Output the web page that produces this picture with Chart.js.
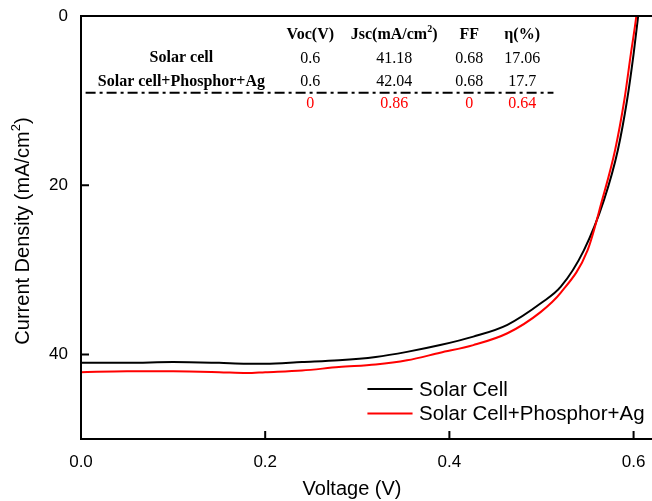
<!DOCTYPE html>
<html>
<head>
<meta charset="utf-8">
<script src="https://cdn.jsdelivr.net/npm/chart.js@4.4.0/dist/chart.umd.min.js"></script>
<style>
  html, body { margin: 0; padding: 0; background: #fff; }
  #wrap { width: 652px; height: 501px; }
</style>
</head>
<body>
<div id="wrap"><canvas id="myChart" width="652" height="501"></canvas></div>
<script>
// J-V curves (voltage in V, current density in mA/cm2)
var cellVoltage = [0, 0.05, 0.10, 0.15, 0.18, 0.20, 0.24, 0.28, 0.32, 0.354, 0.39, 0.426, 0.463, 0.50, 0.521, 0.546, 0.568, 0.583, 0.593, 0.600, 0.605, 0.608];
var cellCurrent = [41.0, 41.0, 40.9, 41.0, 41.1, 41.1, 40.9, 40.7, 40.3, 39.7, 38.9, 37.9, 36.5, 33.9, 32.0, 27.7, 21.7, 15.8, 9.9, 4.5, 0, -3];
var agVoltage = [0, 0.05, 0.10, 0.15, 0.18, 0.20, 0.24, 0.28, 0.32, 0.354, 0.39, 0.426, 0.463, 0.499, 0.521, 0.55, 0.566, 0.580, 0.590, 0.597, 0.603, 0.606];
var agCurrent = [42.1, 42.0, 42.0, 42.1, 42.2, 42.1, 41.9, 41.5, 41.2, 40.7, 39.8, 38.9, 37.5, 35.0, 32.7, 27.7, 21.7, 15.8, 9.9, 4.5, 0, -3];

var seriesLabels = ['Solar Cell', 'Solar Cell+Phosphor+Ag'];
var seriesColors = ['#000000', '#ff0000'];

// parameter table in the upper part of the plot
var tableHeaders = ['Voc(V)', ['Jsc(mA/cm', '2', ')'], 'FF', '\u03b7(%)'];
var tableRows = ['Solar cell', 'Solar cell+Phosphor+Ag'];
var cellParams = ['0.6', '41.18', '0.68', '17.06'];
var agParams = ['0.6', '42.04', '0.68', '17.7'];
var diffParams = ['0', '0.86', '0', '0.64'];

var xTicks = [0, 0.2, 0.4, 0.6];
var yTicks = [0, 20, 40];
var xTitle = 'Voltage (V)';
var yTitle = ['Current Density (mA/cm', '2', ')'];

function toPoints(xs, ys) {
    return xs.map((x, i) => ({ x: x, y: ys[i] }));
}

// text with a raised small part, centred on (x, y)
function supText(ctx, parts, x, y, font, supFont, rise) {
    ctx.font = font;
    var w1 = ctx.measureText(parts[0]).width, w3 = ctx.measureText(parts[2]).width;
    ctx.font = supFont;
    var w2 = ctx.measureText(parts[1]).width;
    var sx = x - (w1 + w2 + w3) / 2;
    ctx.textAlign = 'left';
    ctx.font = font;
    ctx.fillText(parts[0], sx, y);
    ctx.font = supFont;
    ctx.fillText(parts[1], sx + w1, y - rise);
    ctx.font = font;
    ctx.fillText(parts[2], sx + w1 + w2, y);
}

// frame, inward ticks, axis titles, table and legend
var extras = {
    id: 'extras',
    afterDatasetsDraw(chart) {
        var ctx = chart.ctx, a = chart.chartArea;
        var xs = chart.scales.x, ys = chart.scales.y;
        ctx.save();

        // axis box (left, top, bottom) with ticks pointing in
        ctx.strokeStyle = '#000';
        ctx.lineWidth = 2;
        ctx.beginPath();
        ctx.moveTo(a.right, a.top);
        ctx.lineTo(a.left, a.top);
        ctx.lineTo(a.left, a.bottom);
        ctx.lineTo(a.right, a.bottom);
        xTicks.forEach(v => {
            var p = xs.getPixelForValue(v);
            ctx.moveTo(p, a.bottom);
            ctx.lineTo(p, a.bottom - 8);
        });
        yTicks.forEach(v => {
            var p = ys.getPixelForValue(v);
            ctx.moveTo(a.left, p);
            ctx.lineTo(a.left + 8, p);
        });
        ctx.stroke();

        // axis titles
        ctx.fillStyle = '#000';
        ctx.textBaseline = 'middle';
        ctx.textAlign = 'center';
        ctx.font = '20px "Liberation Sans"';
        ctx.fillText(xTitle, 352, 489);
        ctx.save();
        ctx.translate(23, 231);
        ctx.rotate(-Math.PI / 2);
        supText(ctx, yTitle, 0, 0, '20px "Liberation Sans"', '13px "Liberation Sans"', 7);
        ctx.restore();

        // table
        var colX = [0.249, 0.340, 0.4217, 0.479];
        var labelX = 0.109;
        var rowY = [2.25, 5.0, 7.75, 10.4];
        ctx.textAlign = 'center';
        tableHeaders.forEach((t, i) => {
            var px = xs.getPixelForValue(colX[i]), py = ys.getPixelForValue(rowY[0]);
            if (Array.isArray(t)) {
                supText(ctx, t, px, py, 'bold 16px "Liberation Serif"', 'bold 10px "Liberation Serif"', 6);
                ctx.textAlign = 'center';
            } else {
                ctx.font = 'bold 16px "Liberation Serif"';
                ctx.fillText(t, px, py);
            }
        });
        ctx.font = 'bold 16px "Liberation Serif"';
        tableRows.forEach((t, i) => ctx.fillText(t, xs.getPixelForValue(labelX), ys.getPixelForValue(rowY[i + 1])));
        ctx.font = '16px "Liberation Serif"';
        cellParams.forEach((t, i) => ctx.fillText(t, xs.getPixelForValue(colX[i]), ys.getPixelForValue(rowY[1])));
        agParams.forEach((t, i) => ctx.fillText(t, xs.getPixelForValue(colX[i]), ys.getPixelForValue(rowY[2])));
        ctx.fillStyle = '#ff0000';
        diffParams.forEach((t, i) => ctx.fillText(t, xs.getPixelForValue(colX[i]), ys.getPixelForValue(rowY[3])));

        // dash-dot separator
        ctx.strokeStyle = '#000';
        ctx.lineWidth = 2;
        ctx.setLineDash([10, 4, 3, 4]);
        ctx.beginPath();
        var ly = ys.getPixelForValue(9.07);
        ctx.moveTo(xs.getPixelForValue(0.005), ly);
        ctx.lineTo(xs.getPixelForValue(0.513), ly);
        ctx.stroke();
        ctx.setLineDash([]);

        // legend
        var legY = [44.1, 47.0];
        ctx.font = '20.5px "Liberation Sans"';
        ctx.textAlign = 'left';
        seriesLabels.forEach((t, i) => {
            var y = ys.getPixelForValue(legY[i]);
            ctx.strokeStyle = seriesColors[i];
            ctx.beginPath();
            ctx.moveTo(xs.getPixelForValue(0.311), y);
            ctx.lineTo(xs.getPixelForValue(0.360), y);
            ctx.stroke();
            ctx.fillStyle = '#000';
            ctx.fillText(t, xs.getPixelForValue(0.367), y + 1);
        });
        ctx.restore();
    }
};

var ctx = document.getElementById('myChart').getContext('2d');
var myChart = new Chart(ctx, {
    type: 'line',
    data: {
        datasets: [{
            label: seriesLabels[0],
            data: toPoints(cellVoltage, cellCurrent),
            borderColor: seriesColors[0],
            borderWidth: 2,
            pointRadius: 0,
            cubicInterpolationMode: 'monotone',
            order: 1
        }, {
            label: seriesLabels[1],
            data: toPoints(agVoltage, agCurrent),
            borderColor: seriesColors[1],
            borderWidth: 2,
            pointRadius: 0,
            cubicInterpolationMode: 'monotone',
            order: 0
        }]
    },
    options: {
        responsive: false,
        animation: false,
        layout: { padding: { top: 16, right: 0, left: 0, bottom: 0 } },
        plugins: {
            legend: { display: false },
            tooltip: { enabled: false }
        },
        scales: {
            x: {
                type: 'linear',
                min: 0,
                max: 0.62,
                afterBuildTicks: s => { s.ticks = xTicks.map(v => ({ value: v })); },
                afterFit: s => { s.height = 62; s.paddingLeft = 0; s.paddingRight = 0; },
                grid: { display: false, drawTicks: false },
                border: { display: false },
                ticks: {
                    color: '#000',
                    padding: 13,
                    font: { family: 'Liberation Sans', size: 17 },
                    callback: v => v.toFixed(1)
                }
            },
            y: {
                type: 'linear',
                reverse: true,
                min: 0,
                max: 50,
                afterBuildTicks: s => { s.ticks = yTicks.map(v => ({ value: v })); },
                afterFit: s => { s.width = 81; s.paddingTop = 0; s.paddingBottom = 0; },
                grid: { display: false, drawTicks: false },
                border: { display: false },
                ticks: {
                    color: '#000',
                    padding: 13,
                    font: { family: 'Liberation Sans', size: 17 }
                }
            }
        }
    },
    plugins: [extras]
});
</script>
</body>
</html>
